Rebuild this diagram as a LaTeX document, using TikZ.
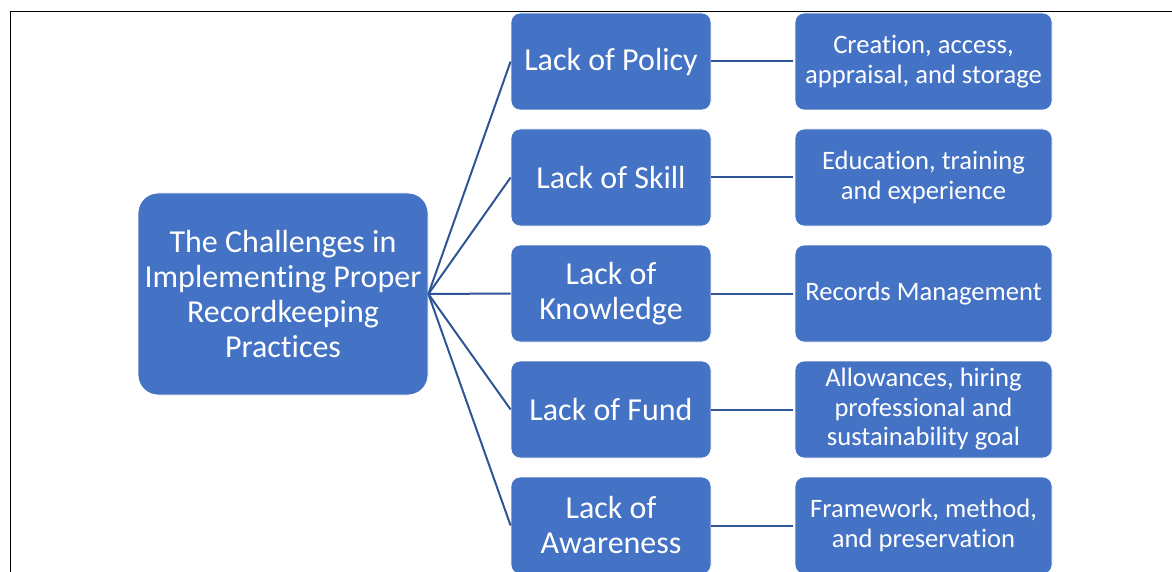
\documentclass[tikz,border=0pt]{standalone}
\usepackage{fontspec}
\setmainfont{Carlito}[Ligatures=NoCommon]
\definecolor{boxblue}{HTML}{4472C4}
\definecolor{linkblue}{HTML}{2F5597}
\tikzset{
  base/.style={fill=boxblue, draw=white, line width=0.8pt, text=white, align=center, inner sep=0pt, anchor=center},
  rootbox/.style={base, rounded corners=20pt, minimum width=290pt, minimum height=202pt, font=\fontsize{32}{35}\selectfont},
  midbox/.style={base, rounded corners=9pt, minimum width=200pt, minimum height=97pt, font=\fontsize{32}{35}\selectfont},
  leafbox/.style={base, rounded corners=9pt, minimum width=257pt, minimum height=97pt, font=\fontsize{26.6}{29.5}\selectfont},
  link/.style={draw=linkblue, line width=2pt},
  frame/.style={draw=black, line width=1.5pt}
}
\begin{document}
\begin{tikzpicture}[x=1pt,y=-1pt]
\useasboundingbox (0,0) rectangle (1172,572);
\draw[frame] (10.5,572) -- (10.5,11.5) -- (1172,11.5);
\node[rootbox] (root) at (283,294) {The Challenges in\\Implementing Proper\\Recordkeeping\\Practices};
\node[midbox] (m1) at (611,61.5) {Lack of Policy};
\node[midbox] (m2) at (611,177.5) {Lack of Skill};
\node[midbox] (m3) at (611,293.5) {Lack of\\Knowledge};
\node[midbox] (m4) at (611,409.5) {Lack of Fund};
\node[midbox] (m5) at (611,525.5) {Lack of\\Awareness};
\node[leafbox] (r1) at (923.5,61.5) {Creation, access,\\appraisal, and storage};
\node[leafbox] (r2) at (923.5,177.5) {Education, training\\and experience};
\node[leafbox] (r3) at (923.5,293.5) {Records Management};
\node[leafbox] (r4) at (923.5,409.5) {Allowances, hiring\\professional and\\sustainability goal};
\node[leafbox] (r5) at (923.5,525.5) {Framework, method,\\and preservation};
\foreach \i in {1,...,5} {
  \draw[link] (root.east) -- (m\i.west);
  \draw[link] (m\i.east) -- ([xshift=-2pt]r\i.west);
}
\end{tikzpicture}
\end{document}
